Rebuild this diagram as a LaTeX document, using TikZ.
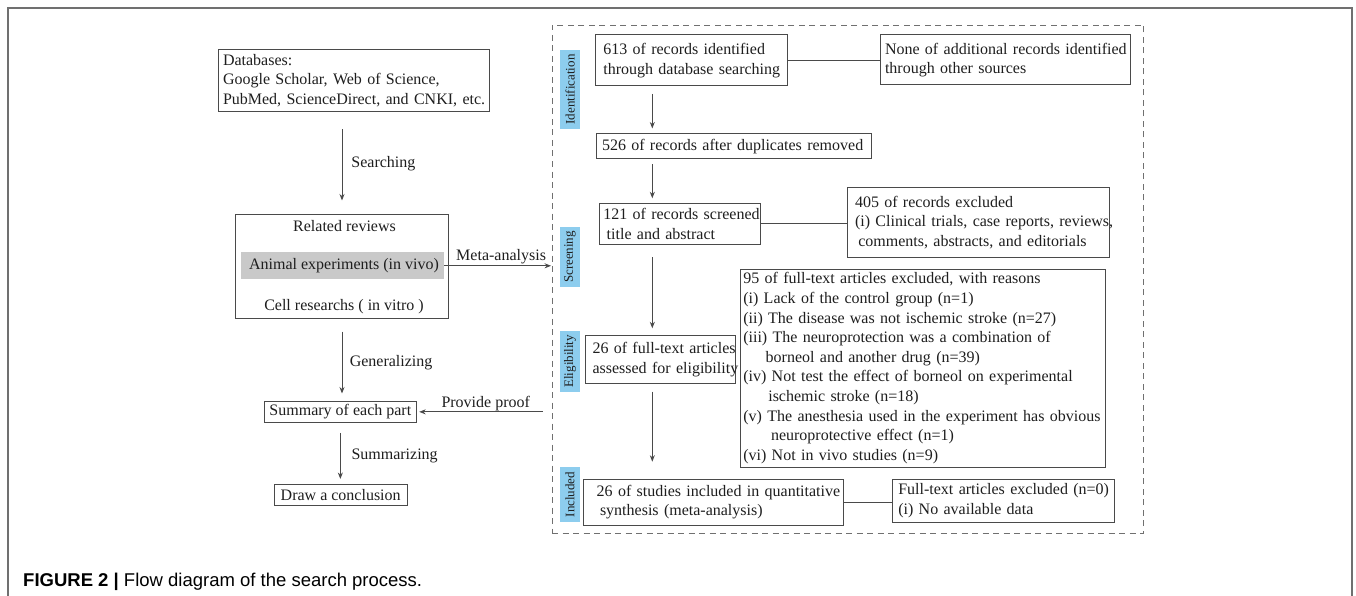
\documentclass[tikz,border=0pt]{standalone}
\usepackage{fontspec}
\setmainfont{Liberation Serif}
\newfontfamily\capfont{Liberation Sans}
\usetikzlibrary{arrows.meta,calc}
\definecolor{lc}{HTML}{4A4A4A}
\definecolor{txt}{HTML}{1E1E1E}
\definecolor{bandblue}{HTML}{8DCDEE}
\definecolor{bandgray}{HTML}{C9C9C9}
\definecolor{framegray}{HTML}{707070}
\newcommand\mainfs{\fontsize{16}{19.6}\selectfont}
\newcommand\bandfs{\fontsize{13}{15}\selectfont}
\tikzset{
  box/.style={draw=lc, line width=1pt, inner ysep=0pt, align=left, font=\mainfs, text=txt},
  cbox/.style={draw=lc, line width=1pt, inner sep=0pt, align=center, font=\mainfs, text=txt},
  plain/.style={inner sep=0pt, font=\mainfs, text=txt},
  lbl/.style={inner sep=0pt, font=\mainfs, text=txt},
  band/.style={fill=bandblue, rotate=90, inner sep=0pt, minimum height=20pt, font=\bandfs, text=txt},
  arr/.style={draw=lc, line width=0.9pt, -{Stealth[length=6.5pt,width=5pt]}},
  conn/.style={draw=lc, line width=1pt},
  dashframe/.style={draw=framegray, line width=0.9pt, dash pattern=on 6pt off 4.5pt, inner sep=0pt},
}
\begin{document}
\begin{tikzpicture}[x=1pt,y=-1pt]
\useasboundingbox (0,0) rectangle (1356,596);
% outer frame
\draw[framegray, line width=1.2pt] (8,596) -- (8,8) -- (1352,8) -- (1352,596);

% ---------- left column ----------
\node[box, minimum width=271pt, minimum height=61.3pt, text width=262.2pt, inner xsep=4.4pt] (dbs) at (354.1,80.65)
  {\mbox{Databases:}\\\mbox{Google Scholar, Web of Science,}\\\mbox{PubMed, ScienceDirect, and CNKI, etc.}};
\node[cbox, minimum width=212.6pt, minimum height=104.3pt] (rel) at (342,266.15) {};
\node[plain] (relt) at (344.5,225.7) {Related reviews};
\node[plain, fill=bandgray, minimum width=203pt, minimum height=27pt] (anim) at (342.5,265.8) {\hspace*{3pt}Animal experiments (in vivo)};
\node[plain] (cellt) at (344,307) {Cell researchs ( in vitro )};
\node[cbox, minimum width=152.7pt, minimum height=21.7pt] (sum) at (340.35,411.85) {Summary of each part};
\node[cbox, minimum width=132.8pt, minimum height=21.4pt] (concl) at (340.7,495) {Draw a conclusion};

% ---------- dashed frame and bands ----------
\node[dashframe, minimum width=591.5pt, minimum height=508pt] (frame) at (847.75,279) {};
\node[band, minimum width=79pt] (bid) at (570,89.5) {Identification};
\node[band, minimum width=60pt] (bsc) at (570,257) {Screening};
\node[band, minimum width=61pt] (bel) at (570,361.3) {Eligibility};
\node[band, minimum width=54.5pt] (bin) at (570,494.5) {Included};

% ---------- right column ----------
\coordinate (colx) at (652.3,0);
\node[box, minimum width=192pt, minimum height=50.7pt, text width=176.8pt, inner xsep=7.6pt] (A) at (691.7,60.35)
  {\mbox{613 of records identified}\\\mbox{through database searching}};
\node[box, minimum width=250pt, minimum height=50pt, text width=241.4pt, inner xsep=4.3pt] (B) at (1005.7,60)
  {\mbox{None of additional records identified}\\\mbox{through other sources}};
\node[box, minimum width=275pt, minimum height=24.3pt, text width=263pt, inner xsep=6pt] (C) at (733.5,146.15)
  {\mbox{526 of records after duplicates removed}};
\node[box, minimum width=160.7pt, minimum height=41.3pt, text width=152.7pt, inner xsep=4pt] (D) at (679.65,223.65)
  {\mbox{121 of records screened}\\\mbox{\hspace*{3.4pt}title and abstract}};
\node[box, minimum width=262pt, minimum height=70pt, text width=246.6pt, inner xsep=7.7pt] (E) at (978.3,222.3)
  {\mbox{405 of records excluded}\\\mbox{(i) Clinical trials, case reports, reviews,}\\\mbox{\hspace*{3.3pt}comments, abstracts, and editorials}};
\node[box, minimum width=150.7pt, minimum height=48pt, text width=140.7pt, inner xsep=5pt] (F) at (660.35,359.3)
  {\mbox{\hspace*{2.5pt}26 of full-text articles}\\\mbox{\hspace*{2.5pt}assessed for eligibility}};
\node[box, minimum width=365pt, minimum height=198.3pt, text width=358.4pt, inner xsep=3.3pt] (G) at (922.5,368.15)
  {\mbox{95 of full-text articles excluded, with reasons}\\
   \mbox{(i) Lack of the control group (n=1)}\\
   \mbox{(ii) The disease was not ischemic stroke (n=27)}\\
   \mbox{(iii) The neuroprotection was a combination of}\\
   \mbox{\hspace*{22.4pt}borneol and another drug (n=39)}\\
   \mbox{(iv) Not test the effect of borneol on experimental}\\
   \mbox{\hspace*{25pt}ischemic stroke (n=18)}\\
   \mbox{(v) The anesthesia used in the experiment has obvious}\\
   \mbox{\hspace*{27.7pt}neuroprotective effect (n=1)}\\
   \mbox{(vi) Not in vivo studies (n=9)}};
\node[box, minimum width=260pt, minimum height=46pt, text width=233.2pt, inner xsep=13.4pt] (H) at (713.3,502)
  {\mbox{26 of studies included in quantitative}\\\mbox{\hspace*{3.3pt}synthesis (meta-analysis)}};
\node[box, minimum width=221.7pt, minimum height=43pt, text width=209.7pt, inner xsep=6pt] (I) at (1003.15,500.8)
  {\mbox{Full-text articles excluded (n=0)}\\\mbox{(i) No available data}};

% ---------- connectors, left ----------
\draw[arr, shorten <=17.7pt, shorten >=13pt] (rel.north |- dbs.south) -- (rel.north)
  node[lbl, midway, anchor=west, xshift=9pt, yshift=-1.5pt] (lsearch) {Searching};
\draw[arr, shorten <=12.7pt, shorten >=7pt] (rel.south) -- (rel.south |- sum.north)
  node[lbl, midway, anchor=west, xshift=7.3pt, yshift=-3pt] (lgen) {Generalizing};
\draw[arr, shorten <=9.6pt, shorten >=4.8pt] (sum.south) -- (sum.south |- concl.north)
  node[lbl, midway, anchor=west, xshift=10.7pt, yshift=-2pt] (lsumm) {Summarizing};
\draw[arr, shorten >=0.5pt] (anim.east) -- (anim.east -| frame.west)
  node[lbl, pos=0.53, yshift=9.5pt] (lmeta) {Meta-analysis};
\draw[arr, shorten <=8.7pt, shorten >=2pt] (frame.west |- sum.east) -- (sum.east)
  node[lbl, pos=0.49, yshift=8.5pt] (lproof) {Provide proof};

% ---------- connectors, right ----------
\draw[conn] (A.east) -- (B.west |- A.east);
\draw[arr, shorten <=7.6pt, shorten >=5pt] (colx |- A.south) -- (colx |- C.north);
\draw[arr, shorten <=5.7pt, shorten >=4.2pt] (colx |- C.south) -- (colx |- D.north);
\draw[conn] (D.east) -- (E.west |- D.east);
\draw[arr, shorten <=12.4pt, shorten >=6.5pt] (colx |- D.south) -- (colx |- F.north);
\draw[arr, shorten <=7.7pt, shorten >=16.8pt] (colx |- F.south) -- (colx |- H.north);
\draw[conn] (H.east) -- (I.west |- H.east);

% ---------- caption ----------
\node[inner sep=0pt, anchor=base west, text=black, font=\capfont\fontsize{18.5}{21}\selectfont] (cap) at (23,586)
  {\textbf{FIGURE 2 |} Flow diagram of the search process.};
\end{tikzpicture}
\end{document}
